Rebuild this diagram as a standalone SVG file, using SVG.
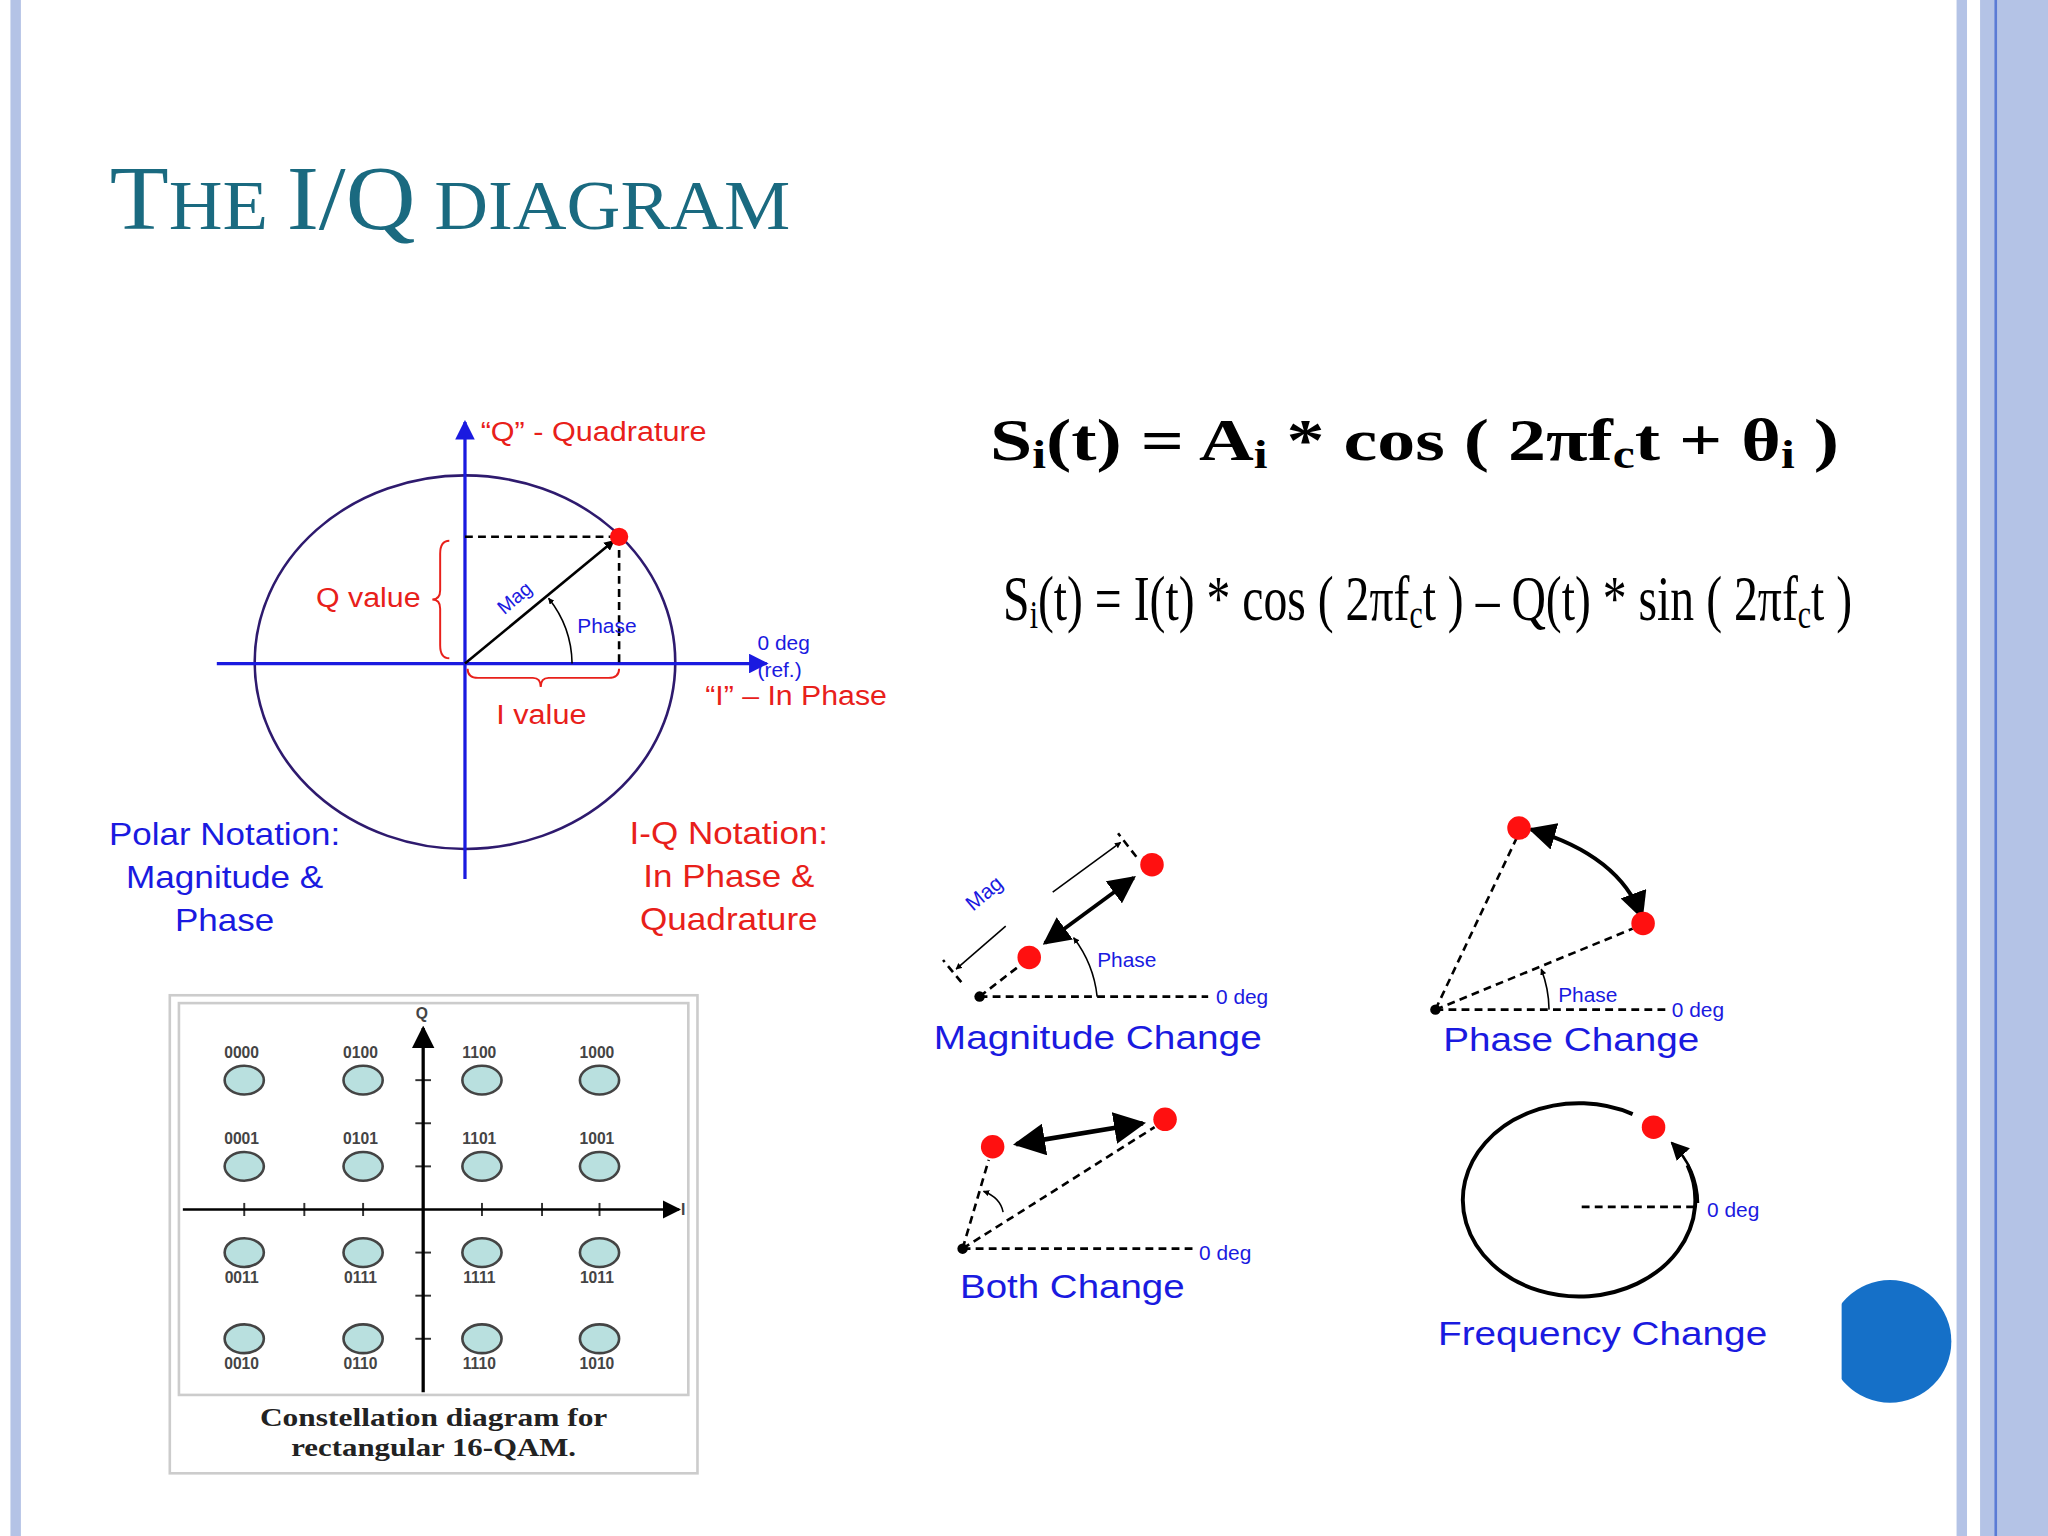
<svg xmlns="http://www.w3.org/2000/svg" width="2048" height="1536" viewBox="0 0 2048 1536">
<defs>
<style>
.b{fill:#1a1ae0;font-family:"Liberation Sans",Arial,sans-serif}
.r{fill:#e8201a;font-family:"Liberation Sans",Arial,sans-serif}
.d{stroke:#000;stroke-width:2;stroke-dasharray:6,4;fill:none}
.k{stroke:#000;fill:none}
.dot{fill:#ff1010}
.el{fill:#b9e0df;stroke:#444;stroke-width:2}
.lb{font-family:"Liberation Sans",Arial,sans-serif;font-size:12px;fill:#444;text-anchor:middle;font-weight:bold}
</style>
<marker id="ab" viewBox="0 0 10 10" refX="9" refY="5" markerWidth="6" markerHeight="6" orient="auto-start-reverse"><path d="M0,0L10,5L0,10z" fill="#1a1ae0"/></marker>
<marker id="ak" viewBox="0 0 10 10" refX="9" refY="5" markerWidth="7" markerHeight="7" orient="auto-start-reverse"><path d="M0,0L10,5L0,10z" fill="#000"/></marker>
<marker id="aks" viewBox="0 0 10 10" refX="9" refY="5" markerWidth="4" markerHeight="4" orient="auto-start-reverse"><path d="M0,0L10,5L0,10z" fill="#000"/></marker>
<clipPath id="cc"><rect x="1410" y="970" width="100" height="120"/></clipPath>
</defs>
<rect width="2048" height="1536" fill="#fff"/>
<g transform="scale(1.30612)">
<g id="frame">
<rect x="8" y="0" width="8" height="1176" fill="#b4c3e6"/>
<rect x="1498" y="0" width="8" height="1176" fill="#b4c3e6"/>
<rect x="1516" y="0" width="52" height="1176" fill="#b4c3e6"/>
<line x1="1528" y1="0" x2="1528" y2="1176" stroke="#5b7bd5" stroke-width="2"/>
</g>
<text id="title" x="84" y="175" font-family="'Liberation Serif',serif" fill="#1a6a80" font-size="70" textLength="521" lengthAdjust="spacingAndGlyphs">T<tspan font-size="54">HE </tspan>I/Q<tspan font-size="54"> DIAGRAM</tspan></text>

<g id="iq-diagram">
<ellipse cx="356" cy="507" rx="161" ry="143" fill="none" stroke="#2e1a6e" stroke-width="2"/>
<line x1="166" y1="508" x2="587" y2="508" stroke="#1a1ae0" stroke-width="2.5" marker-end="url(#ab)"/>
<line x1="356" y1="673" x2="356" y2="323" stroke="#1a1ae0" stroke-width="2.5" marker-end="url(#ab)"/>
<line x1="356" y1="411" x2="474" y2="411" class="d"/>
<line x1="474" y1="411" x2="474" y2="508" class="d"/>
<line x1="356" y1="508" x2="470" y2="414" class="k" stroke-width="2" marker-end="url(#aks)"/>
<path d="M438,508 A82,82 0 0 0 420,458" class="k" stroke-width="1.2" marker-end="url(#aks)"/>
<circle cx="474" cy="411" r="7" class="dot"/>
<path d="M344,414 Q337,414 337,424 L337,452 Q337,459 331,459 Q337,459 337,466 L337,494 Q337,504 344,504" fill="none" stroke="#e8201a" stroke-width="1.5"/>
<path d="M358,512 Q358,519 366,519 L408,519 Q414,519 414,526 Q414,519 420,519 L466,519 Q474,519 474,512" fill="none" stroke="#e8201a" stroke-width="1.5"/>
<text class="b" font-size="15" transform="translate(386,471) rotate(-40)">Mag</text>
<text class="b" x="442" y="485" font-size="16">Phase</text>
<text class="b" x="580" y="498" font-size="16">0 deg</text>
<text class="b" x="580" y="518" font-size="16">(ref.)</text>
<text class="r" x="242" y="465" font-size="21" textLength="80" lengthAdjust="spacingAndGlyphs">Q value</text>
<text class="r" x="380" y="554" font-size="21" textLength="69" lengthAdjust="spacingAndGlyphs">I value</text>
<text class="r" x="368" y="338" font-size="21" textLength="173" lengthAdjust="spacingAndGlyphs">“Q” - Quadrature</text>
<text class="r" x="540" y="540" font-size="21" textLength="139" lengthAdjust="spacingAndGlyphs">“I” – In Phase</text>
<text class="b" font-size="24" text-anchor="middle"><tspan x="172" y="647" textLength="177" lengthAdjust="spacingAndGlyphs">Polar Notation:</tspan><tspan x="172" y="680" textLength="151" lengthAdjust="spacingAndGlyphs">Magnitude &amp;</tspan><tspan x="172" y="713" textLength="76" lengthAdjust="spacingAndGlyphs">Phase</tspan></text>
<text class="r" font-size="24" text-anchor="middle"><tspan x="558" y="646" textLength="152" lengthAdjust="spacingAndGlyphs">I-Q Notation:</tspan><tspan x="558" y="679" textLength="131" lengthAdjust="spacingAndGlyphs">In Phase &amp;</tspan><tspan x="558" y="712" textLength="136" lengthAdjust="spacingAndGlyphs">Quadrature</tspan></text>
</g>

<g id="equations" font-family="'Liberation Serif',serif" fill="#000">
<text x="758" y="352" font-size="46" font-weight="bold" textLength="650" lengthAdjust="spacingAndGlyphs">S<tspan font-size="30" dy="6">i</tspan><tspan dy="-6">(t) = A</tspan><tspan font-size="30" dy="6">i</tspan><tspan dy="-6"> * cos ( 2πf</tspan><tspan font-size="30" dy="6">c</tspan><tspan dy="-6">t + θ</tspan><tspan font-size="30" dy="6">i</tspan><tspan dy="-6"> )</tspan></text>
<text x="768" y="475" font-size="48" textLength="650" lengthAdjust="spacingAndGlyphs">S<tspan font-size="30" dy="6">i</tspan><tspan dy="-6">(t) = I(t) * cos ( 2πf</tspan><tspan font-size="30" dy="6">c</tspan><tspan dy="-6">t ) – Q(t) * sin ( 2πf</tspan><tspan font-size="30" dy="6">c</tspan><tspan dy="-6">t )</tspan></text>
</g>

<g id="magnitude-change">
<circle cx="750" cy="763" r="4" fill="#000"/>
<line x1="750" y1="763" x2="925" y2="763" class="d"/>
<line x1="750" y1="763" x2="785" y2="736" class="d"/>
<line x1="800" y1="722" x2="868" y2="672" class="k" stroke-width="3" marker-start="url(#ak)" marker-end="url(#ak)"/>
<line x1="736" y1="752" x2="722" y2="735" class="d" stroke-width="1.2"/>
<line x1="870" y1="656" x2="856" y2="638" class="d" stroke-width="1.2"/>
<line x1="770" y1="709" x2="732" y2="742" class="k" stroke-width="1.2" marker-end="url(#aks)"/>
<line x1="806" y1="683" x2="858" y2="645" class="k" stroke-width="1.2" marker-end="url(#aks)"/>
<path d="M840,763 A90,90 0 0 0 822,718" class="k" stroke-width="1.2" marker-end="url(#aks)"/>
<circle cx="788" cy="733" r="9" class="dot"/>
<circle cx="882" cy="662" r="9" class="dot"/>
<text class="b" font-size="16" transform="translate(745,698) rotate(-40)">Mag</text>
<text class="b" x="840" y="740" font-size="16">Phase</text>
<text class="b" x="931" y="769" font-size="16">0 deg</text>
<text class="b" x="715" y="803" font-size="26" textLength="251" lengthAdjust="spacingAndGlyphs">Magnitude Change</text>
</g>

<g id="phase-change">
<circle cx="1099" cy="773" r="4" fill="#000"/>
<line x1="1099" y1="773" x2="1275" y2="773" class="d"/>
<line x1="1099" y1="773" x2="1161" y2="642" class="d"/>
<line x1="1099" y1="773" x2="1250" y2="711" class="d"/>
<path d="M1172,635 Q1240,655 1257,702" class="k" stroke-width="3" marker-start="url(#ak)" marker-end="url(#ak)"/>
<path d="M1186,773 A88,88 0 0 0 1180,742" class="k" stroke-width="1.2" marker-end="url(#aks)"/>
<circle cx="1163" cy="634" r="9" class="dot"/>
<circle cx="1258" cy="707" r="9" class="dot"/>
<text class="b" x="1193" y="767" font-size="16">Phase</text>
<text class="b" x="1280" y="779" font-size="16">0 deg</text>
<text class="b" x="1105" y="805" font-size="26" textLength="196" lengthAdjust="spacingAndGlyphs">Phase Change</text>
</g>

<g id="both-change">
<circle cx="737" cy="956" r="4" fill="#000"/>
<line x1="737" y1="956" x2="913" y2="956" class="d"/>
<line x1="737" y1="956" x2="757" y2="888" class="d"/>
<line x1="737" y1="956" x2="884" y2="863" class="d"/>
<line x1="778" y1="876" x2="875" y2="860" class="k" stroke-width="3.5" marker-start="url(#ak)" marker-end="url(#ak)"/>
<path d="M768,928 Q766,917 753,912" class="k" stroke-width="1.2" marker-end="url(#aks)"/>
<circle cx="760" cy="878" r="9" class="dot"/>
<circle cx="892" cy="857" r="9" class="dot"/>
<text class="b" x="918" y="965" font-size="16">0 deg</text>
<text class="b" x="735" y="994" font-size="26" textLength="172" lengthAdjust="spacingAndGlyphs">Both Change</text>
</g>

<g id="frequency-change">
<path d="M1292,892 A89,74 0 1 1 1250,853" class="k" stroke-width="3"/>
<path d="M1300,921 A89,74 0 0 0 1280,875" class="k" stroke-width="2" marker-end="url(#ak)"/>
<line x1="1211" y1="924" x2="1298" y2="924" class="d"/>
<circle cx="1266" cy="863" r="9" class="dot"/>
<text class="b" x="1307" y="932" font-size="16">0 deg</text>
<text class="b" x="1101" y="1030" font-size="26" textLength="252" lengthAdjust="spacingAndGlyphs">Frequency Change</text>
</g>

<circle cx="1447" cy="1027" r="47" fill="#1570c8" clip-path="url(#cc)"/>

<g id="constellation">
<rect x="130" y="762" width="404" height="366" fill="#fff" stroke="#ccc" stroke-width="2"/>
<rect x="137" y="768" width="390" height="300" fill="#fff" stroke="#ccc" stroke-width="2"/>
<g stroke="#333" stroke-width="1.5">
<line x1="187" y1="921" x2="187" y2="931"/><line x1="233" y1="921" x2="233" y2="931"/><line x1="278" y1="921" x2="278" y2="931"/>
<line x1="369" y1="921" x2="369" y2="931"/><line x1="415" y1="921" x2="415" y2="931"/><line x1="459" y1="921" x2="459" y2="931"/>
<line x1="318" y1="827" x2="330" y2="827"/><line x1="318" y1="860" x2="330" y2="860"/><line x1="318" y1="893" x2="330" y2="893"/>
<line x1="318" y1="959" x2="330" y2="959"/><line x1="318" y1="992" x2="330" y2="992"/><line x1="318" y1="1025" x2="330" y2="1025"/>
</g>
<line x1="140" y1="926" x2="520" y2="926" class="k" stroke-width="2" marker-end="url(#ak)"/>
<line x1="324" y1="1066" x2="324" y2="787" class="k" stroke-width="2.5" marker-end="url(#ak)"/>
<text class="lb" x="523" y="930">I</text>
<text class="lb" x="323" y="780">Q</text>
<g>
<ellipse class="el" cx="187" cy="827" rx="15" ry="11"/><ellipse class="el" cx="278" cy="827" rx="15" ry="11"/><ellipse class="el" cx="369" cy="827" rx="15" ry="11"/><ellipse class="el" cx="459" cy="827" rx="15" ry="11"/>
<ellipse class="el" cx="187" cy="893" rx="15" ry="11"/><ellipse class="el" cx="278" cy="893" rx="15" ry="11"/><ellipse class="el" cx="369" cy="893" rx="15" ry="11"/><ellipse class="el" cx="459" cy="893" rx="15" ry="11"/>
<ellipse class="el" cx="187" cy="959" rx="15" ry="11"/><ellipse class="el" cx="278" cy="959" rx="15" ry="11"/><ellipse class="el" cx="369" cy="959" rx="15" ry="11"/><ellipse class="el" cx="459" cy="959" rx="15" ry="11"/>
<ellipse class="el" cx="187" cy="1025" rx="15" ry="11"/><ellipse class="el" cx="278" cy="1025" rx="15" ry="11"/><ellipse class="el" cx="369" cy="1025" rx="15" ry="11"/><ellipse class="el" cx="459" cy="1025" rx="15" ry="11"/>
</g>
<text class="lb" x="185" y="810">0000</text><text class="lb" x="276" y="810">0100</text><text class="lb" x="367" y="810">1100</text><text class="lb" x="457" y="810">1000</text>
<text class="lb" x="185" y="876">0001</text><text class="lb" x="276" y="876">0101</text><text class="lb" x="367" y="876">1101</text><text class="lb" x="457" y="876">1001</text>
<text class="lb" x="185" y="982">0011</text><text class="lb" x="276" y="982">0111</text><text class="lb" x="367" y="982">1111</text><text class="lb" x="457" y="982">1011</text>
<text class="lb" x="185" y="1048">0010</text><text class="lb" x="276" y="1048">0110</text><text class="lb" x="367" y="1048">1110</text><text class="lb" x="457" y="1048">1010</text>
<text font-family="'Liberation Serif',serif" font-size="20" font-weight="bold" text-anchor="middle" fill="#222"><tspan x="332" y="1092" textLength="266" lengthAdjust="spacingAndGlyphs">Constellation diagram for</tspan><tspan x="332" y="1115" textLength="218" lengthAdjust="spacingAndGlyphs">rectangular 16-QAM.</tspan></text>
</g>
</g>
</svg>
